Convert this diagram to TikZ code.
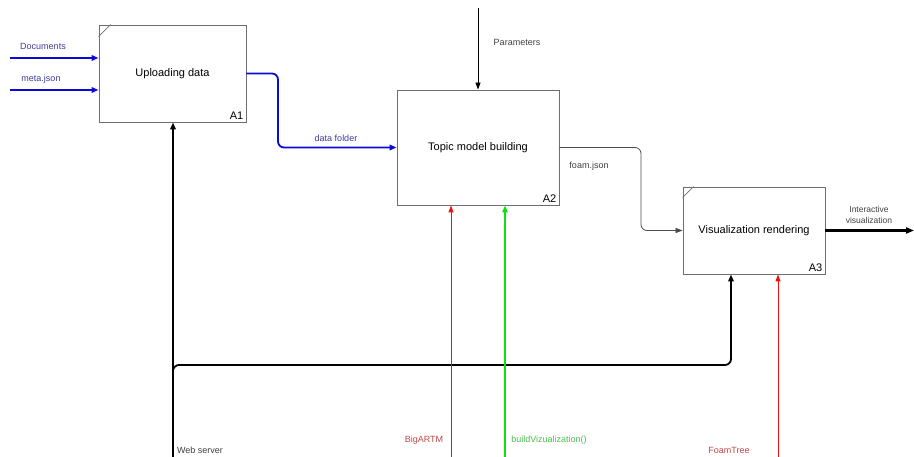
\documentclass[tikz,border=0pt]{standalone}
\usepackage{fontspec}
\setmainfont{Liberation Sans}
\usetikzlibrary{arrows.meta,calc}
\definecolor{boxgray}{HTML}{6E6E6E}
\definecolor{flowblue}{HTML}{0A0AD8}
\definecolor{labblue}{HTML}{3C3CA0}
\definecolor{labgray}{HTML}{404040}
\definecolor{mechred}{HTML}{F01010}
\definecolor{labred}{HTML}{C04848}
\definecolor{mechgreen}{HTML}{10E010}
\definecolor{labgreen}{HTML}{48C048}
\tikzset{
  x=1pt, y=-1pt,
  fbox/.style={draw=boxgray, line width=0.9pt, rectangle, inner sep=0pt, anchor=center,
    font=\fontsize{11}{13}\selectfont, text=black},
  boxid/.style={font=\fontsize{11}{13}\selectfont, text=black, anchor=south east, inner xsep=3pt, inner ysep=2.5pt},
  lab/.style={font=\fontsize{9}{10.5}\selectfont, inner sep=0pt},
  bigtip/.style={-{Triangle[length=7pt,width=5.5pt]}},
  thintip/.style={-{Triangle[length=7pt,width=5pt]}},
  blueflow/.style={draw=flowblue, line width=1.8pt, bigtip},
  blackflow/.style={draw=black, line width=1.8pt, bigtip},
  thinflow/.style={draw=black!70, line width=0.8pt, thintip},
  redflow/.style={draw=mechred, line width=0.9pt, thintip},
  greenflow/.style={draw=mechgreen, line width=1.8pt, bigtip},
}
\begin{document}
\begin{tikzpicture}
\useasboundingbox (0,0) rectangle (914,457);
% boxes
\node[fbox, minimum width=147pt, minimum height=97pt] (A1) at (172.5,73.5) {Uploading data};
\node[fbox, minimum width=162pt, minimum height=115pt] (A2) at (478,147.5) {Topic model building};
\node[fbox, minimum width=142pt, minimum height=87pt] (A3) at (754,230.5) {Visualization rendering};
\node[boxid] (idA1) at (A1.south east) {A1};
\node[boxid] (idA2) at (A2.south east) {A2};
\node[boxid] (idA3) at (A3.south east) {A3};
\draw[boxgray, line width=0.8pt] ($(A1.north west)+(0,12)$) -- ($(A1.north west)+(12,0)$);
\draw[boxgray, line width=0.8pt] ($(A3.north west)+(0,11)$) -- ($(A3.north west)+(11,0)$);
% free ends
\coordinate (docS) at (10,58);
\coordinate (metaS) at (10,90);
\coordinate (parS) at (478,8);
\coordinate (outE) at (914,230.5);
\coordinate (wsS) at (173,457);
\coordinate (brS) at (173,385);
\coordinate (brY) at (0,365);
\coordinate (artS) at (451,457);
\coordinate (bvS) at (505,457);
\coordinate (ftS) at (778,457);
\coordinate (dfX) at (278,0);
\coordinate (fjX) at (641,0);
\coordinate (brX) at (731,0);
% inputs
\draw[blueflow] (docS) -- (docS -| A1.west);
\draw[blueflow] (metaS) -- (metaS -| A1.west);
\node[lab, text=labblue] (lDoc) at (43,46) {Documents};
\node[lab, text=labblue] (lMeta) at (41,79) {meta.json};
% A1 -> A2
\draw[blueflow, rounded corners=6pt] (A1.east) -- (A1.east -| dfX) |- (A2.west);
\node[lab, text=labblue] (lDf) at (336,138) {data folder};
% Parameters
\draw[thinflow, draw=black] (parS) -- (parS |- A2.north);
\node[lab, text=labgray] (lPar) at (517,42) {Parameters};
% A2 -> A3
\draw[thinflow, rounded corners=6pt] (A2.east) -- (A2.east -| fjX) |- (A3.west);
\node[lab, text=labgray] (lFj) at (589,166) {foam.json};
% output
\draw[draw=black, line width=2.2pt, -{Triangle[length=8pt,width=6pt]}] (A3.east) -- (outE);
\node[lab, text=labgray, align=center, font=\fontsize{8.5}{11}\selectfont] (lOut) at (869,214.5) {Interactive\\visualization};
% web server
\draw[blackflow] (wsS) -- (wsS |- A1.south);
\draw[blackflow, rounded corners=6pt] (brS) -- (brS |- brY) -- (brY -| brX) -- (brX |- A3.south);
\node[lab, text=labgray] (lWs) at (200,450) {Web server};
% mechanisms
\draw[redflow] (artS) -- (artS |- A2.south);
\draw[greenflow] (bvS) -- (bvS |- A2.south);
\draw[redflow] (ftS) -- (ftS |- A3.south);
\node[lab, text=labred] (lArt) at (424,440) {BigARTM};
\node[lab, text=labgreen] (lBv) at (549,440) {buildVizualization()};
\node[lab, text=labred] (lFt) at (729,450) {FoamTree};
\end{tikzpicture}
\end{document}
